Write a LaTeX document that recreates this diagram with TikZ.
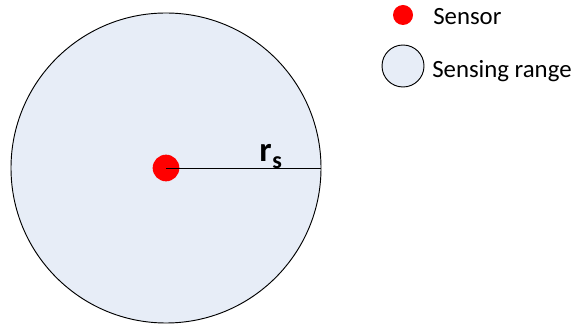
\documentclass[tikz,border=0pt]{standalone}
\usepackage{fontspec}
\setmainfont{Carlito}
\usepackage{tikz}
\usetikzlibrary{positioning}
\definecolor{rangefill}{RGB}{231,237,247}
\definecolor{sensorred}{RGB}{255,0,0}
\newcommand{\rslabel}{r\kern0.5pt\raisebox{-5pt}{\fontsize{18}{20}\selectfont s}}
\tikzset{
  rangedisk/.style={circle, draw=black, fill=rangefill, line width=0.7pt, inner sep=0pt},
  sensordot/.style={circle, fill=sensorred, draw=none, inner sep=0pt},
  legtext/.style={inner sep=0pt, anchor=base west, font=\fontsize{18.6}{22}\selectfont},
  radius line/.style={line width=0.7pt, black},
}
\begin{document}
\begin{tikzpicture}[x=0.75pt, y=-0.75pt]
  \useasboundingbox (0,0) rectangle (577,327);
  % sensing area and its sensor
  \node[rangedisk, minimum size=232.5pt] (range) at (166,168) {};
  \node[sensordot, minimum size=20pt] (sensor) at (166,168) {};
  \draw[radius line] (sensor.center) -- (range.east);
  \node[legtext, font=\fontsize{26}{28}\selectfont\bfseries] (rs) at (259,161.5) {\rslabel};
  % legend
  \node[sensordot, minimum size=15pt] (legsensor) at (403,15) {};
  \node[legtext] (legsensortext) at (433,25) {Sensor};
  \node[rangedisk, minimum size=31.5pt] (legrange) at (403,66) {};
  \node[legtext] (legrangetext) at (432,77.5) {Sensing range};
\end{tikzpicture}
\end{document}
